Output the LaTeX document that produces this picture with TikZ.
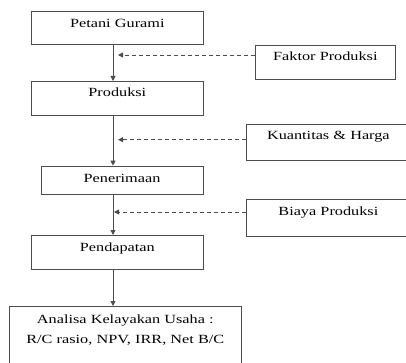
\documentclass[tikz,border=0pt]{standalone}
\usepackage{fontspec}
\setmainfont{Liberation Serif}[FakeStretch=1.3]
\usetikzlibrary{arrows.meta}

\begin{document}
\begin{tikzpicture}[x=1pt,y=-1pt,
    box/.style={draw=black!70,line width=0.7pt,inner sep=0pt,anchor=north west,align=center,font=\fontsize{12.5}{20.3}\selectfont},
    flow/.style={draw=black!70,line width=0.9pt,-{Triangle[length=5pt,width=5pt]}},
    extra/.style={flow,dash pattern=on 4pt off 3pt}]
            \useasboundingbox (0,0) rectangle (406,363);
            \node[box,text width=172pt,text height=16.3pt,text depth=17pt] (petani) at (31,10.7) {Petani Gurami};
            \node[box,text width=172pt,text height=15pt,text depth=19pt] (produksi) at (31,81) {Produksi};
            \node[box,text width=162pt,text height=16pt,text depth=12.3pt] (penerimaan) at (40.7,165.7) {Penerimaan};
            \node[box,text width=172pt,text height=15.7pt,text depth=18.3pt] (pendapatan) at (31,235) {Pendapatan};
            \node[box,text width=232pt,text height=17pt,text depth=43pt] (analisa) at (9,306) {Analisa Kelayakan Usaha :\\R/C rasio, NPV, IRR, Net B/C\hspace{8pt}};
            \node[box,text width=140pt,text height=15pt,text depth=19pt] (faktor) at (255,45) {Faktor Produksi};
            \node[box,text width=164pt,text height=15pt,text depth=21pt] (kuantitas) at (246,124) {Kuantitas \& Harga};
            \node[box,text width=164pt,text height=16pt,text depth=21pt] (biaya) at (246,199) {Biaya Produksi};
            \coordinate (spine) at (113,0);
            \coordinate (in1) at (118,55);
            \coordinate (in2) at (118,139.7);
            \coordinate (in3) at (114,212);
            \draw[flow] (petani.south -| spine) -- (produksi.north -| spine);
            \draw[flow] (produksi.south -| spine) -- (penerimaan.north -| spine);
            \draw[flow] (penerimaan.south -| spine) -- (pendapatan.north -| spine);
            \draw[flow] (pendapatan.south -| spine) -- (analisa.north -| spine);
            \draw[extra] (in1 -| faktor.west) -- (in1);
            \draw[extra] (in2 -| kuantitas.west) -- (in2);
            \draw[extra] (in3 -| biaya.west) -- (in3);
\end{tikzpicture}
\end{document}
